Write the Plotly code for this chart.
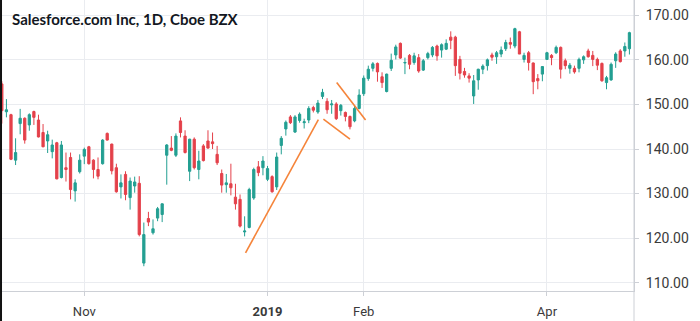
import pandas as pd
import plotly.graph_objects as go

holidays = ['2018-11-22', '2018-12-05', '2018-12-25', '2019-01-01',
            '2019-01-21', '2019-02-18', '2019-04-19']
dates = [d.strftime('%Y-%m-%d') for d in
         pd.bdate_range('2018-10-08', '2019-04-26', freq='C', holidays=holidays)]

opens = [154.6, 148.35, 147.7, 137.5, 145.7, 146.9, 145.4, 148.4, 146.5, 143.7,
         141.8, 139.4, 141.4, 133.6, 135.8, 138.1, 130.6, 134.9, 138.4, 140.5,
         137.5, 135.4, 136.7, 143.5, 141.1, 135.8, 131.5, 134.3, 129.1, 131.7,
         132.3, 114.4, 124.4, 121.2, 124.5, 125.3, 138.6, 140.2, 138.6, 146.3,
         142.9, 135.0, 142.2, 135.4, 140.7, 141.8, 141.6, 138.8, 134.5, 132.0,
         132.2, 129.2, 128.7, 121.4, 122.4, 129.0, 136.0, 135.8, 133.2, 133.8,
         131.5, 140.8, 144.5, 147.2, 143.8, 146.4, 145.9, 146.5, 149.3, 148.3,
         151.8, 150.7, 149.9, 150.1, 148.6, 148.2, 147.3, 146.3, 149.1, 152.4,
         155.8, 158.1, 159.2, 156.2, 152.9, 158.1, 161.1, 163.7, 159.3, 161.0,
         159.4, 160.5, 157.7, 160.5, 161.1, 163.1, 162.2, 162.4, 165.1, 165.1,
         160.1, 157.4, 156.4, 151.9, 155.5, 157.9, 158.7, 161.1, 160.7, 161.3,
         162.5, 163.9, 163.1, 166.3, 160.1, 161.6, 159.3, 155.8, 156.8, 160.1,
         161.0, 161.6, 162.8, 159.8, 158.1, 158.1, 158.1, 160.0, 162.0, 161.0,
         160.1, 159.2, 154.9, 155.5, 159.8, 162.0, 162.0, 162.5]
highs = [155.2, 151.2, 147.9, 142.4, 149.0, 147.1, 148.0, 148.6, 147.7, 145.6,
         144.1, 142.1, 141.6, 141.8, 139.2, 139.2, 133.2, 138.8, 140.3, 140.7,
         137.7, 138.1, 142.2, 143.7, 141.2, 136.7, 134.3, 135.0, 133.6, 133.8,
         133.9, 123.5, 125.9, 124.2, 127.0, 127.8, 141.1, 142.9, 143.5, 147.1,
         144.2, 142.3, 142.6, 139.6, 141.1, 144.2, 143.7, 140.7, 135.4, 134.4,
         136.7, 132.2, 129.8, 124.9, 131.3, 135.8, 137.3, 138.4, 136.2, 134.1,
         139.2, 142.9, 146.4, 147.6, 147.6, 148.2, 146.8, 149.6, 149.7, 151.0,
         153.5, 151.4, 151.0, 150.5, 150.1, 148.4, 147.5, 149.7, 153.4, 156.5,
         158.7, 159.5, 159.4, 157.2, 156.9, 161.4, 163.4, 163.9, 160.5, 161.3,
         161.6, 161.3, 160.2, 161.8, 163.1, 163.4, 163.7, 164.6, 166.4, 165.4,
         160.9, 158.2, 157.0, 156.6, 158.0, 159.0, 160.3, 161.6, 162.0, 163.0,
         164.5, 165.0, 167.2, 166.5, 161.6, 162.0, 159.4, 156.8, 158.6, 161.8,
         161.3, 163.2, 163.0, 160.3, 159.3, 158.7, 160.5, 161.0, 162.5, 162.0,
         160.5, 159.4, 156.4, 159.4, 161.7, 162.4, 163.9, 166.3]
lows = [145.7, 147.1, 137.5, 136.4, 143.3, 141.2, 144.1, 145.4, 142.6, 140.4,
        139.1, 137.9, 133.2, 133.4, 132.7, 128.7, 128.2, 134.5, 136.6, 136.5,
        133.4, 133.2, 136.5, 141.9, 134.3, 130.2, 128.9, 128.5, 126.4, 130.2,
        120.4, 113.7, 122.7, 120.8, 123.8, 123.6, 132.0, 139.5, 138.2, 142.6,
        139.0, 132.8, 135.4, 133.2, 137.2, 140.1, 140.0, 136.4, 130.2, 130.2,
        129.6, 126.4, 122.4, 120.4, 122.2, 128.6, 133.9, 134.1, 132.8, 130.2,
        130.8, 138.8, 143.0, 145.6, 143.6, 145.9, 144.6, 145.8, 148.2, 147.9,
        151.2, 147.9, 147.9, 146.5, 147.5, 146.2, 144.4, 146.0, 148.9, 151.9,
        155.3, 157.4, 155.1, 153.7, 152.7, 157.5, 160.1, 160.2, 156.8, 157.9,
        158.9, 157.1, 157.5, 160.1, 160.6, 159.8, 160.5, 162.2, 162.4, 156.4,
        155.6, 156.0, 154.9, 150.1, 153.3, 156.8, 157.6, 159.8, 159.1, 160.6,
        162.0, 162.5, 162.6, 161.3, 159.4, 157.6, 152.3, 153.4, 155.2, 160.0,
        158.8, 161.3, 155.8, 157.9, 156.9, 156.9, 157.2, 159.1, 160.5, 158.6,
        157.7, 155.1, 153.4, 155.3, 158.2, 159.4, 160.7, 161.2]
closes = [148.6, 148.8, 137.7, 139.2, 146.9, 142.0, 147.7, 147.1, 142.7, 140.5,
          143.2, 140.9, 133.3, 140.9, 135.4, 130.9, 132.4, 137.5, 139.9, 136.7,
          135.4, 133.9, 142.0, 142.0, 135.1, 130.4, 132.4, 129.8, 132.8, 132.6,
          120.8, 120.8, 123.6, 122.1, 126.6, 127.7, 140.9, 139.7, 142.9, 143.7,
          139.2, 142.2, 135.8, 137.3, 137.4, 140.2, 141.2, 136.9, 131.9, 132.4,
          131.3, 127.7, 122.7, 121.6, 130.9, 135.4, 134.7, 137.3, 135.6, 130.4,
          138.2, 142.4, 146.0, 145.9, 147.2, 147.8, 146.1, 149.1, 148.7, 150.3,
          152.7, 148.8, 150.1, 146.8, 149.8, 147.3, 145.0, 149.1, 152.1, 155.9,
          157.9, 159.1, 157.3, 154.9, 156.8, 159.9, 162.9, 160.4, 159.4, 159.0,
          160.9, 157.5, 159.8, 161.4, 162.8, 160.9, 163.4, 163.7, 164.4, 158.7,
          157.0, 156.6, 155.9, 155.3, 157.9, 158.6, 160.0, 160.6, 161.6, 162.2,
          163.9, 163.5, 167.0, 161.3, 161.0, 159.4, 155.1, 155.3, 158.5, 161.6,
          160.5, 162.8, 157.9, 158.7, 158.8, 157.3, 160.1, 160.7, 160.7, 160.1,
          158.8, 155.3, 156.0, 159.0, 161.3, 159.6, 163.0, 166.1]

tick_dates = ['2018-11-01', '2019-01-02', '2019-02-01', '2019-04-01']
tick_labels = ['Nov', '<b>2019</b>', 'Feb', 'Apr']
price_ticks = [110, 120, 130, 140, 150, 160, 170]

# hand-drawn trend lines: (start index, start price, end index, end price)
trend_lines = [(53.2, 116.7, 69.1, 146.6),
               (70.2, 146.7, 76.0, 142.2),
               (73.1, 154.9, 79.4, 146.5)]

UP = '#239f92'
DOWN = '#e4404a'

fig = go.Figure(go.Candlestick(
    x=dates, open=opens, high=highs, low=lows, close=closes,
    increasing=dict(line=dict(color=UP, width=1), fillcolor=UP),
    decreasing=dict(line=dict(color=DOWN, width=1), fillcolor=DOWN),
    whiskerwidth=0, showlegend=False, hoverinfo='skip'))

shapes = []
for x0, y0, x1, y1 in trend_lines:
    shapes.append(dict(type='line', xref='x', yref='y', x0=x0, y0=y0, x1=x1, y1=y1,
                       line=dict(color='#f5843a', width=1.6)))
# right axis border extending through the date axis
shapes.append(dict(type='line', xref='paper', yref='paper', x0=1, x1=1, y0=-0.11, y1=1,
                   line=dict(color='#cdd0d6', width=1)))
# dark frame edge on the left
shapes.append(dict(type='line', xref='paper', yref='paper', x0=0.0016, x1=0.0016,
                   y0=-0.11, y1=1, line=dict(color='#111111', width=2)))

fig.update_layout(
    width=700, height=321,
    margin=dict(l=0, r=66, t=0, b=30),
    paper_bgcolor='white', plot_bgcolor='white',
    font=dict(family='Roboto, Arial, sans-serif', size=13, color='#3a3a3a'),
    shapes=shapes,
    annotations=[dict(text='<b>Salesforce.com Inc, 1D, Cboe BZX</b>', xref='paper', yref='paper',
                      x=0.015, y=0.935, xanchor='left', yanchor='middle', showarrow=False,
                      font=dict(family='Lato, Arial, sans-serif', size=15, color='#131722'))],
    xaxis=dict(type='category', categoryorder='array', categoryarray=dates,
               range=[-0.40, 138.0], rangeslider=dict(visible=False),
               tickmode='array', tickvals=tick_dates, ticktext=tick_labels,
               showgrid=True, gridcolor='#eaecf0', gridwidth=1,
               showline=True, linecolor='#cdd0d6', linewidth=1,
               ticks='outside', ticklen=4, tickcolor='#cdd0d6',
               tickfont=dict(size=13, color='#3a3a3a'), ticklabelstandoff=4),
    yaxis=dict(side='right', range=[108.14, 173.43],
               tickmode='array', tickvals=price_ticks,
               ticktext=[f'{v:.2f}' for v in price_ticks],
               showgrid=True, gridcolor='#eaecf0', gridwidth=1,
               showline=True, linecolor='#cdd0d6', linewidth=1,
               ticks='outside', ticklen=4, tickcolor='#cdd0d6',
               tickfont=dict(size=14, color='#3a3a3a'), ticklabelstandoff=4,
               zeroline=False),
)

fig.write_html('out.html')
